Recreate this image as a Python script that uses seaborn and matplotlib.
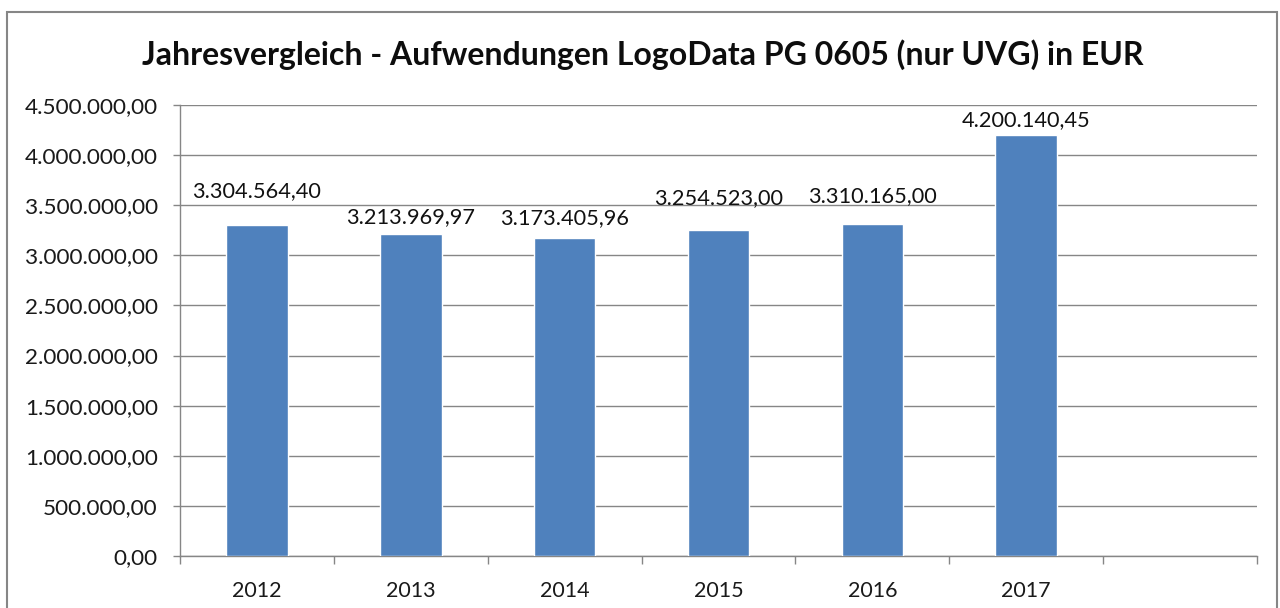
import matplotlib
matplotlib.use("Agg")
import matplotlib.pyplot as plt
import seaborn as sns
import numpy as np
from matplotlib.patches import Rectangle
from matplotlib.ticker import FuncFormatter, MultipleLocator, FixedLocator

years = ["2012", "2013", "2014", "2015", "2016", "2017"]
values = [3304564.40, 3213969.97, 3173405.96, 3254523.00, 3310165.00, 4200140.45]
title = "Jahresvergleich - Aufwendungen LogoData PG 0605 (nur UVG) in EUR"

# label vertical offsets (px) above bar tops, as placed in the reference
label_offsets = [34, 17, 20, 32, 28, 15]

def de_fmt(v):
    s = f"{v:,.2f}"
    return s.replace(",", "X").replace(".", ",").replace("X", ".")

sns.set_theme(style="white")
plt.rcParams["font.family"] = ["Lato", "DejaVu Sans"]

fig = plt.figure(figsize=(12.8, 6.08), dpi=100)
ax = fig.add_axes([180/1280, 1-556/608, (1257-180)/1280, (556-105)/608])

# outer chart border
fig.patches.append(Rectangle((7/1280, -0.05), (1277-7)/1280, 1.05 - 12/608,
                             transform=fig.transFigure, fill=False,
                             edgecolor="#868686", linewidth=1.5))

bar_color = "#4F81BD"
sns.barplot(x=years, y=values, color=bar_color, width=0.4, saturation=1,
            ax=ax, zorder=3)

ax.set_xlim(-0.5, 6.5)
ax.set_ylim(0, 4500000)
ax.yaxis.set_major_locator(MultipleLocator(500000))
ax.yaxis.set_major_formatter(FuncFormatter(lambda v, p: de_fmt(v)))
ax.grid(axis="y", color="#868686", linewidth=1, zorder=0)
ax.grid(axis="x", visible=False)
ax.set_axisbelow(True)

for s in ["top", "right"]:
    ax.spines[s].set_visible(False)
for s in ["left", "bottom"]:
    ax.spines[s].set_color("#868686")
    ax.spines[s].set_linewidth(1)

ax.set_xlabel("")
ax.set_ylabel("")
ax.tick_params(axis="y", which="major", length=5, color="#868686", width=1,
               labelsize=16.2, labelcolor="#1a1a1a", left=True, pad=11)
ax.tick_params(axis="x", which="major", length=0, labelsize=15.5,
               labelcolor="#1a1a1a", pad=18)
ax.xaxis.set_minor_locator(FixedLocator(np.arange(-0.5, 7.0, 1.0)))
ax.tick_params(axis="x", which="minor", length=6, color="#868686", width=1,
               bottom=True, direction="out")

for i, (v, off) in enumerate(zip(values, label_offsets)):
    ax.annotate(de_fmt(v), xy=(i, v), xytext=(0, off * 0.72), textcoords="offset points",
                ha="center", va="center", fontsize=15.7, color="#111111")

fig.text(643/1280, 1-55/608, title, ha="center", va="center",
         fontsize=23, fontweight="bold", color="#0d0d0d")

fig.savefig("out.png", dpi=100, facecolor="white")
